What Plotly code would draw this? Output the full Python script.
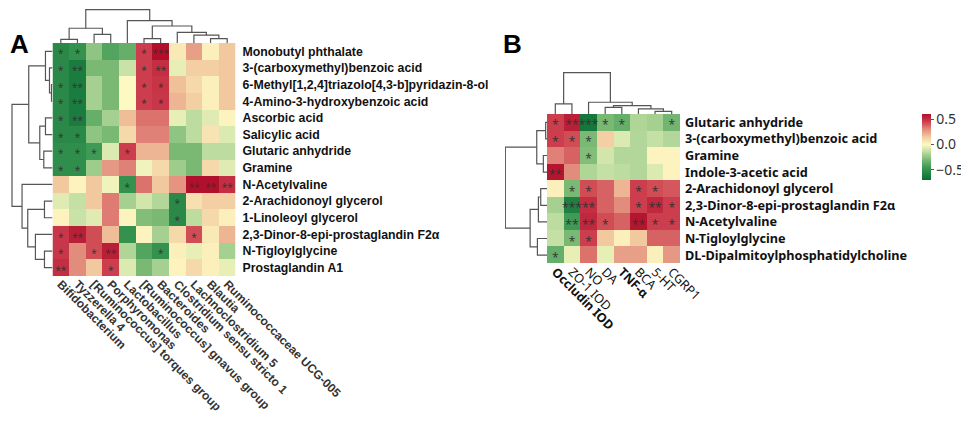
import plotly.graph_objects as go

W, H = 969, 421
OFF = 8  # page body margin around the figure

# ---- panel A: metabolites vs. gut bacteria ----
a_rows = [
    "Monobutyl phthalate",
    "3-(carboxymethyl)benzoic acid",
    "6-Methyl[1,2,4]triazolo[4,3-b]pyridazin-8-ol",
    "4-Amino-3-hydroxybenzoic acid",
    "Ascorbic acid",
    "Salicylic acid",
    "Glutaric anhydride",
    "Gramine",
    "N-Acetylvaline",
    "2-Arachidonoyl glycerol",
    "1-Linoleoyl glycerol",
    "2,3-Dinor-8-epi-prostaglandin F2α",
    "N-Tigloylglycine",
    "Prostaglandin A1",
]
a_cols = [
    "Bifidobacterium",
    "Tyzzerella 4",
    "[Ruminococcus] torques group",
    "Porphyromonas",
    "Lactobacillus",
    "[Ruminococcus] gnavus group",
    "Bacteroides",
    "Clostridium sensu stricto 1",
    "Lachnoclostridium 5",
    "Blautia",
    "Ruminococcaceae UCG-005",
]
a_vals = [
    [-0.55, -0.50, -0.25, -0.40, -0.35, 0.45, 0.60, 0.05, 0.25, 0.03, 0.15],
    [-0.55, -0.62, -0.30, -0.30, -0.12, 0.45, 0.50, -0.05, 0.13, 0.13, 0.15],
    [-0.55, -0.62, -0.20, -0.30, 0.00, 0.45, 0.48, 0.17, 0.10, 0.03, 0.15],
    [-0.55, -0.62, -0.20, -0.30, 0.00, 0.45, 0.47, 0.20, 0.13, 0.03, 0.15],
    [-0.55, -0.62, -0.35, -0.20, 0.18, 0.35, 0.35, -0.05, -0.15, -0.07, 0.02],
    [-0.55, -0.55, -0.25, -0.30, 0.10, 0.32, 0.32, -0.25, -0.15, 0.07, -0.08],
    [-0.52, -0.52, -0.45, -0.08, 0.45, 0.20, 0.20, -0.30, -0.30, -0.15, -0.15],
    [-0.52, -0.52, -0.22, 0.27, 0.32, -0.03, 0.10, -0.22, -0.30, 0.10, -0.07],
    [0.15, 0.02, 0.15, -0.03, -0.50, 0.35, 0.15, 0.28, 0.60, 0.60, 0.50],
    [-0.07, -0.13, 0.15, 0.33, -0.20, -0.10, -0.17, -0.55, 0.08, 0.13, 0.13],
    [0.02, -0.12, -0.07, 0.33, 0.02, -0.28, -0.30, -0.55, -0.15, 0.10, 0.03],
    [0.47, 0.55, 0.42, 0.18, -0.50, 0.02, -0.20, 0.10, 0.42, 0.05, 0.20],
    [0.47, 0.30, 0.42, 0.55, -0.18, -0.40, -0.50, 0.03, -0.05, 0.03, -0.20],
    [0.50, 0.30, 0.15, 0.45, -0.08, -0.30, -0.20, 0.02, 0.10, 0.03, -0.05],
]
a_sig = [
    ["*", "*", "", "", "", "*", "***", "", "", "", ""],
    ["*", "**", "", "", "", "*", "**", "", "", "", ""],
    ["*", "**", "", "", "", "*", "*", "", "", "", ""],
    ["*", "**", "", "", "", "*", "*", "", "", "", ""],
    ["*", "**", "", "", "", "", "", "", "", "", ""],
    ["*", "*", "", "", "", "", "", "", "", "", ""],
    ["*", "*", "*", "", "*", "", "", "", "", "", ""],
    ["*", "*", "", "", "", "", "", "", "", "", ""],
    ["", "", "", "", "*", "", "", "", "**", "**", "**"],
    ["", "", "", "", "", "", "", "*", "", "", ""],
    ["", "", "", "", "", "", "", "*", "", "", ""],
    ["*", "**", "", "", "", "", "", "", "*", "", ""],
    ["*", "", "*", "**", "", "", "*", "", "", "", ""],
    ["**", "", "", "*", "", "", "", "", "", "", ""],
]
# merges as (left, right, height); clusters are numbered n, n+1, ...
a_col_tree = [
    (0, 1, 13), (2, 3, 31), (11, 12, 53), (5, 6, 16), (9, 10, 16),
    (8, 15, 28), (7, 16, 38), (14, 17, 61), (4, 18, 80), (13, 19, 120),
]
a_row_tree = [
    (2, 3, 3), (1, 14, 9), (0, 15, 21), (4, 5, 21), (6, 7, 26),
    (17, 18, 38), (16, 19, 71), (9, 10, 24), (12, 13, 24), (11, 22, 51),
    (21, 23, 74), (8, 24, 91), (20, 25, 121),
]

# ---- panel B: metabolites vs. indicators ----
b_rows = [
    "Glutaric anhydride",
    "3-(carboxymethyl)benzoic acid",
    "Gramine",
    "Indole-3-acetic acid",
    "2-Arachidonoyl glycerol",
    "2,3-Dinor-8-epi-prostaglandin F2α",
    "N-Acetylvaline",
    "N-Tigloylglycine",
    "DL-Dipalmitoylphosphatidylcholine",
]
b_cols = ["<b>Occludin IOD</b>", "ZO-1 IOD", "NO", "DA", "<b>TNF-α</b>", "BCA", "5-HT", "CGRP1"]
b_vals = [
    [0.45, 0.55, -0.65, -0.30, -0.35, -0.18, -0.20, -0.32],
    [0.45, 0.42, -0.30, 0.13, -0.08, -0.17, -0.13, -0.17],
    [0.32, 0.38, -0.28, -0.10, -0.17, -0.17, 0.02, 0.02],
    [0.58, 0.30, -0.18, -0.13, -0.15, -0.17, -0.08, 0.02],
    [0.03, -0.30, 0.42, 0.38, 0.20, 0.45, 0.42, 0.40],
    [-0.20, -0.60, 0.50, 0.38, 0.30, 0.45, 0.52, 0.45],
    [-0.15, -0.45, 0.52, 0.42, 0.38, 0.58, 0.45, 0.45],
    [-0.13, -0.30, 0.45, 0.15, 0.03, 0.15, 0.38, 0.38],
    [-0.35, -0.05, 0.35, -0.05, 0.25, 0.25, 0.03, 0.27],
]
b_sig = [
    ["*", "**", "***", "*", "*", "", "", "*"],
    ["*", "*", "*", "", "", "", "", ""],
    ["", "", "*", "", "", "", "", ""],
    ["**", "", "", "", "", "", "", ""],
    ["", "*", "*", "", "", "*", "*", ""],
    ["", "***", "**", "", "", "*", "**", "*"],
    ["", "**", "**", "*", "", "**", "*", "*"],
    ["", "*", "*", "", "", "", "", ""],
    ["*", "", "", "", "", "", "", ""],
]
b_col_tree = [
    (0, 1, 30), (6, 7, 8), (5, 9, 15), (3, 4, 20), (11, 10, 25),
    (2, 12, 35), (8, 13, 123),
]
b_row_tree = [
    (0, 1, 4), (2, 3, 11), (9, 10, 31), (4, 5, 19), (12, 6, 26),
    (7, 8, 29), (13, 14, 51), (11, 15, 126),
]

ZMIN, ZMAX = -0.7, 0.6
color_stops = [
    (-0.70, "#0a6e34"), (-0.45, "#3f9a55"), (-0.30, "#79b974"),
    (-0.15, "#bcdca0"), (0.00, "#fdf9c3"), (0.15, "#f2c99e"),
    (0.30, "#e28c7c"), (0.45, "#cc3d4d"), (0.60, "#b0102c"),
]
colorscale = [[(v - ZMIN) / (ZMAX - ZMIN), c] for v, c in color_stops]


def dendro_lines(n, tree):
    pos = {i: (float(i), 0.0) for i in range(n)}
    xs, hs = [], []
    for k, (l, r, h) in enumerate(tree):
        pl, hl = pos[l]
        pr, hr = pos[r]
        xs += [pl, pl, pr, pr, None]
        hs += [hl, h, h, hr, None]
        pos[n + k] = ((pl + pr) / 2, h)
    return xs, hs


def star_trace(sig, size, xa, ya, dy):
    xs, ys, ts = [], [], []
    for i, row in enumerate(sig):
        for j, s in enumerate(row):
            if s:
                xs.append(j)
                ys.append(i + dy)
                ts.append(s)
    return go.Scatter(x=xs, y=ys, text=ts, mode="text", hoverinfo="skip",
                      textfont=dict(size=size, color="#333333"),
                      xaxis=xa, yaxis=ya, showlegend=False)


# page pixel positions -> paper fractions
def px(p):
    return (p - OFF) / W


def py(p):
    return 1 - (p - OFF) / H


def xdom(p0, p1):
    return [max(px(p0), 0), px(p1)]


def ydom(p0, p1):
    return [py(p1), min(py(p0), 1)]


fig = go.Figure()
line = dict(color="#555555", width=1.2)

# panel A
fig.add_trace(go.Heatmap(z=a_vals, x=list(range(len(a_cols))), y=list(range(len(a_rows))),
                         zmin=ZMIN, zmax=ZMAX, colorscale=colorscale, showscale=False,
                         xaxis="x", yaxis="y"))
fig.add_trace(star_trace(a_sig, 10, "x", "y", 0.22))
xs, hs = dendro_lines(len(a_cols), a_col_tree)
fig.add_trace(go.Scatter(x=xs, y=hs, mode="lines", line=line, xaxis="x2", yaxis="y2",
                         showlegend=False, hoverinfo="skip"))
xs, hs = dendro_lines(len(a_rows), a_row_tree)
fig.add_trace(go.Scatter(x=hs, y=xs, mode="lines", line=line, xaxis="x3", yaxis="y3",
                         showlegend=False, hoverinfo="skip"))

# panel B
fig.add_trace(go.Heatmap(z=b_vals, x=list(range(len(b_cols))), y=list(range(len(b_rows))),
                         zmin=ZMIN, zmax=ZMAX, colorscale=colorscale, xaxis="x4", yaxis="y4",
                         colorbar=dict(x=px(922), xanchor="left", y=py(114), yanchor="top",
                                       len=66 / H, lenmode="fraction", thickness=9,
                                       outlinewidth=0, tickvals=[-0.5, 0, 0.5],
                                       ticktext=["−0.5", "0.0", "0.5"], ticks="outside",
                                       ticklen=3, tickcolor="#555555", xpad=0, ypad=0,
                                       tickfont=dict(family="Noto Sans", size=14, color="#333333"))))
fig.add_trace(star_trace(b_sig, 12, "x4", "y4", 0.25))
xs, hs = dendro_lines(len(b_cols), b_col_tree)
fig.add_trace(go.Scatter(x=xs, y=hs, mode="lines", line=line, xaxis="x5", yaxis="y5",
                         showlegend=False, hoverinfo="skip"))
xs, hs = dendro_lines(len(b_rows), b_row_tree)
fig.add_trace(go.Scatter(x=hs, y=xs, mode="lines", line=line, xaxis="x6", yaxis="y6",
                         showlegend=False, hoverinfo="skip"))

hidden = dict(showgrid=False, zeroline=False, showline=False, showticklabels=False, ticks="")
a_font = dict(family="Liberation Sans, Arial", size=12.3, color="#111111", weight="bold")
b_font = dict(family="Noto Sans", size=12.7, color="#111111", weight="bold")

na_c, na_r = len(a_cols), len(a_rows)
nb_c, nb_r = len(b_cols), len(b_rows)

fig.update_layout(
    width=W, height=H, margin=dict(l=0, r=0, t=0, b=0, autoexpand=False),
    paper_bgcolor="white", plot_bgcolor="white", showlegend=False,
    xaxis=dict(domain=xdom(52.5, 235.5), range=[-0.5, na_c - 0.5], showgrid=False,
               zeroline=False, tickmode="array", tickvals=list(range(na_c)), ticktext=a_cols,
               tickangle=45, tickfont=dict(a_font, color="#333333", size=12), ticks="",
               ticklabelstandoff=-2),
    yaxis=dict(domain=ydom(43, 276), range=[na_r - 0.5, -0.5], side="right", anchor="x",
               showgrid=False, zeroline=False, tickmode="array", tickvals=list(range(na_r)),
               ticktext=a_rows, tickfont=a_font, ticks="", ticklabelstandoff=6),
    xaxis2=dict(hidden, domain=xdom(52.5, 235.5), range=[-0.5, na_c - 0.5], anchor="y2"),
    yaxis2=dict(hidden, domain=ydom(9, 43), range=[0, 122], anchor="x2"),
    xaxis3=dict(hidden, domain=xdom(10, 52.5), range=[127, 0], anchor="y3"),
    yaxis3=dict(hidden, domain=ydom(43, 276), range=[na_r - 0.5, -0.5], anchor="x3"),
    xaxis4=dict(domain=xdom(547, 680), range=[-0.5, nb_c - 0.5], anchor="y4", showgrid=False,
                zeroline=False, tickmode="array", tickvals=list(range(nb_c)), ticktext=b_cols,
                tickangle=45, tickfont=dict(family="Noto Sans", size=12.5, color="#111111"),
                ticks="", ticklabelstandoff=-2),
    yaxis4=dict(domain=ydom(114, 263.4), range=[nb_r - 0.5, -0.5], side="right", anchor="x4",
                showgrid=False, zeroline=False, tickmode="array", tickvals=list(range(nb_r)),
                ticktext=b_rows, tickfont=b_font, ticks="", ticklabelstandoff=4),
    xaxis5=dict(hidden, domain=xdom(547, 680), range=[-0.5, nb_c - 0.5], anchor="y5"),
    yaxis5=dict(hidden, domain=ydom(72, 114), range=[0, 125], anchor="x5"),
    xaxis6=dict(hidden, domain=xdom(505, 547), range=[127, 0], anchor="y6"),
    yaxis6=dict(hidden, domain=ydom(114, 263.4), range=[nb_r - 0.5, -0.5], anchor="x6"),
    annotations=[
        dict(text="<b>A</b>", x=0, y=py(44), xref="paper", yref="paper",
             xanchor="left", yanchor="middle", showarrow=False,
             font=dict(family="Liberation Sans, Arial", size=26, color="black")),
        dict(text="<b>B</b>", x=px(501), y=py(44), xref="paper", yref="paper",
             xanchor="left", yanchor="middle", showarrow=False,
             font=dict(family="Liberation Sans, Arial", size=26, color="black")),
    ],
)

fig.write_html("out.html")
